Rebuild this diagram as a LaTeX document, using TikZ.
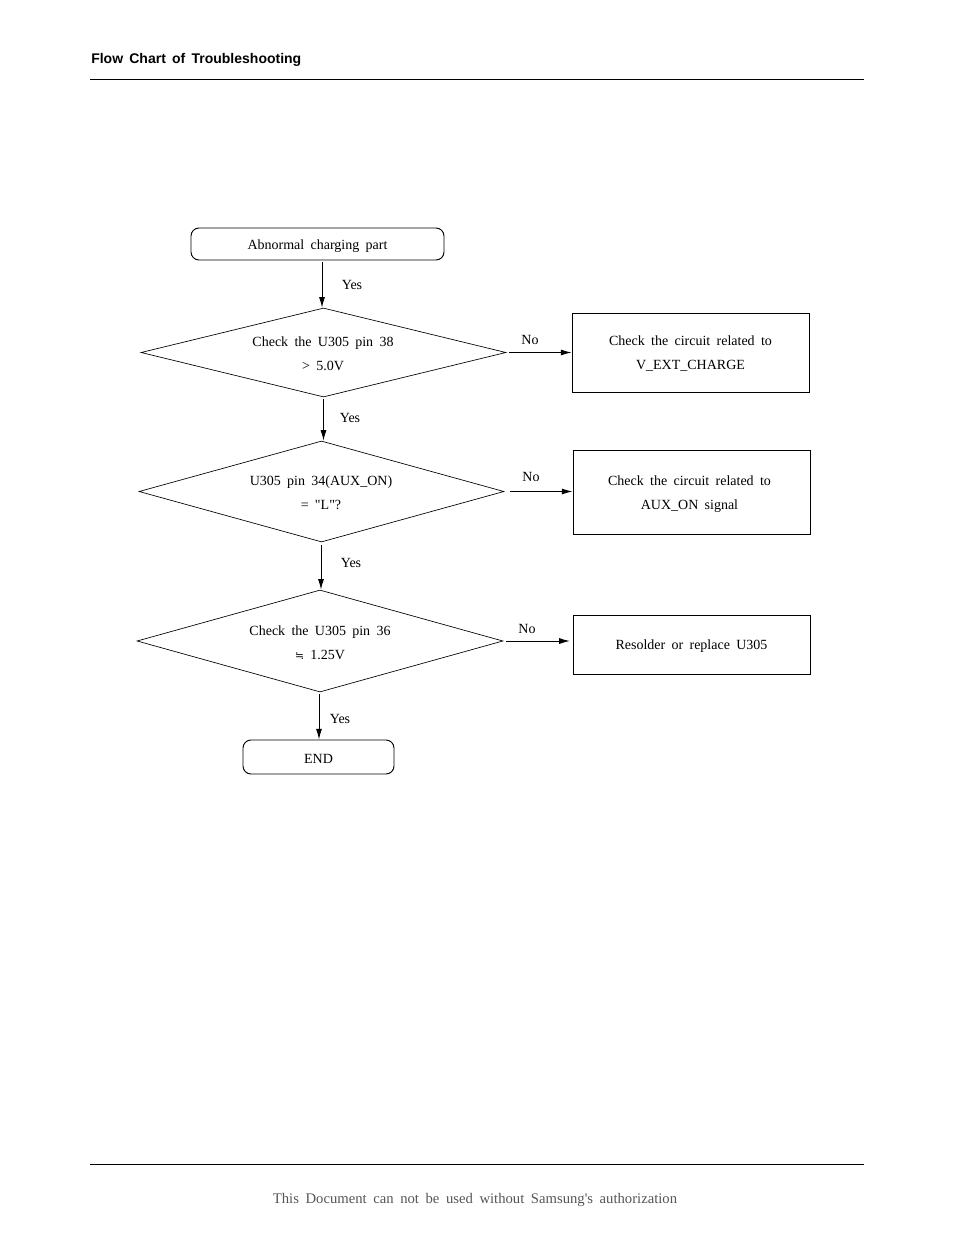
\documentclass[tikz,border=0pt]{standalone}
\usepackage{fontspec}
\setmainfont{Liberation Serif}[WordSpace=1.8]
\newfontfamily\qfont{Liberation Serif}[WordSpace=1.8, Ligatures=TeXOff]
\newfontfamily\headfont{Liberation Sans}[WordSpace=1.6]
\newfontfamily\symfont{DejaVu Sans}
\usetikzlibrary{shapes.geometric,arrows.meta}
\definecolor{footgray}{RGB}{85,85,85}
\tikzset{
  box/.style={draw, line width=0.7pt, rectangle, inner sep=0pt},
  rbox/.style={draw, line width=0.7pt, rectangle, rounded corners=6pt, inner sep=0pt},
  dia/.style={draw, line width=0.5pt, diamond, inner sep=0pt},
  txt/.style={inner sep=0pt, align=center, yshift=-1.5pt, font=\fontsize{10.5}{18}\selectfont},
  lbl/.style={inner sep=0pt, yshift=-0.75pt, font=\fontsize{10.5}{12}\selectfont},
  arr/.style={line width=0.7pt, -{Latex[length=8pt,width=4.5pt]}},
  rule/.style={line width=0.75pt}
}
\begin{document}
\begin{tikzpicture}[x=0.75pt,y=-0.75pt]
\useasboundingbox (0,0) rectangle (954,1235);
% header and footer
\node[anchor=base west, inner sep=0pt, font=\headfont\bfseries\fontsize{10.5}{12}\selectfont] (title) at (91,63) {Flow Chart of Troubleshooting};
\draw[rule] (90,79) -- (864,79);
\draw[rule] (90,1164) -- (864,1164);
\node[inner sep=0pt, text=footgray, font=\qfont\fontsize{11}{13}\selectfont] (foot) at (475,1200) {This Document can not be used without Samsung's authorization};
% nodes
\node[rbox, minimum width=189.75pt, minimum height=24pt] (start) at (317.5,244) {};
\node[txt] (starttxt) at (start) {Abnormal charging part};
\node[dia, minimum width=273.75pt, minimum height=66.75pt] (d1) at (323.5,352.5) {};
\node[txt] (d1txt) at (323,352) {Check the U305 pin 38\\> 5.0V};
\node[box, minimum width=177.75pt, minimum height=59.25pt] (b1) at (690.5,352.5) {};
\node[txt] (b1txt) at (690.5,352) {Check the circuit related to\\V\_EXT\_CHARGE};
\node[dia, minimum width=273.75pt, minimum height=75.75pt] (d2) at (321.5,491.5) {};
\node[txt] (d2txt) at (321,491) {U305 pin 34(AUX\_ON)\\{\qfont = "L"?}};
\node[box, minimum width=177.75pt, minimum height=63pt] (b2) at (691.5,492) {};
\node[txt] (b2txt) at (689.5,492) {Check the circuit related to\\AUX\_ON signal};
\node[dia, minimum width=274.5pt, minimum height=76.5pt] (d3) at (320,641) {};
\node[txt] (d3txt) at (320,641) {Check the U305 pin 36\\{\symfont\fontsize{8}{10}\selectfont ≒} 1.25V};
\node[box, minimum width=177.75pt, minimum height=44.25pt] (b3) at (691.5,644.5) {};
\node[txt] (b3txt) at (b3) {Resolder or replace U305};
\node[rbox, minimum width=113.25pt, minimum height=25.5pt] (end) at (318.5,757) {};
\node[txt] (endtxt) at (end) {END};
% connectors
\draw[arr, shorten <=1.5pt] (start.south -| 322,0) -- (d1.north -| 322,0);
\draw[arr, shorten <=1pt] (d1.south) -- (d1.south |- d2.north);
\draw[arr, shorten <=2pt] (d2.south -| 321,0) -- (d3.north -| 321,0);
\draw[arr, shorten <=1.5pt] (d3.south -| 319,0) -- (end.north -| 319,0);
\draw[arr, shorten <=2.25pt] (d1.east) -- (b1.west |- d1.east);
\draw[arr, shorten <=4.5pt] (d2.east) -- (b2.west |- d2.east);
\draw[arr, shorten <=2.25pt, shorten >=2pt] (d3.east) -- (b3.west |- d3.east);
% labels
\node[lbl] (y1) at (352,284) {Yes};
\node[lbl] (y2) at (350,417) {Yes};
\node[lbl] (y3) at (351,562) {Yes};
\node[lbl] (y4) at (340,718) {Yes};
\node[lbl] (n1) at (530,339) {No};
\node[lbl] (n2) at (531,476) {No};
\node[lbl] (n3) at (527,628) {No};
\end{tikzpicture}
\end{document}
